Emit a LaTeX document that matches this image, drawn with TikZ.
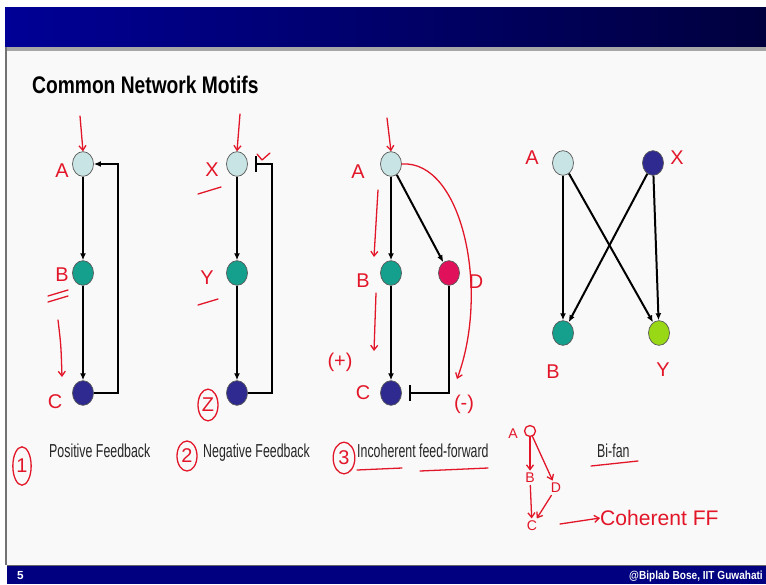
\documentclass[tikz,border=0pt]{standalone}
\usepackage{fontspec}
\setmainfont{Liberation Sans}
\usepackage{graphicx}
\usetikzlibrary{arrows.meta,shapes.geometric}

\definecolor{bandleft}{RGB}{0,0,150}
\definecolor{bandright}{RGB}{0,0,62}
\definecolor{footblue}{RGB}{0,0,128}
\definecolor{slidebg}{RGB}{249,249,249}
\definecolor{lightcyan}{RGB}{200,228,228}
\definecolor{tealnode}{RGB}{20,160,140}
\definecolor{darkblue}{RGB}{46,42,143}
\definecolor{magentanode}{RGB}{224,16,90}
\definecolor{limenode}{RGB}{153,216,20}
\definecolor{pen}{RGB}{226,22,40}

\newcommand*{\squeeze}[2]{\scalebox{#1}[1]{#2}}

\begin{document}
\begin{tikzpicture}
[
	x=0.03cm,
	y=-0.03cm,
	motif/.style={ellipse,draw=black!65,line width=0.6pt,inner sep=0pt,minimum width=0.63cm,minimum height=0.74cm},
	edge/.style={line width=1.7pt,-{Latex[length=6pt,width=5pt]}},
	inhib/.style={line width=1.7pt,-{Bar[width=13pt]},shorten >=6pt},
	caption/.style={anchor=base west,inner sep=0pt,font=\fontsize{16}{18}\selectfont,text=black!85},
	hand/.style={text=pen,font=\fontsize{17}{19}\selectfont,inner sep=0pt},
	handline/.style={draw=pen,line width=1.1pt,line cap=round},
	handarrow/.style={handline,-{Straight Barb[length=4pt,width=6pt]}},
	sketch/.style={hand,font=\fontsize{12}{14}\selectfont,inner sep=2pt}
]

	% slide
	\useasboundingbox (0,0) rectangle (766,584);
	\fill[white] (0,0) rectangle (766,584);
	\fill[slidebg] (6,50) rectangle (766,565);
	\shade[left color=bandleft,right color=bandright] (5,7) rectangle (766,47);
	\fill[black!35] (5,47) rectangle (766,51);
	\draw[black!55,line width=1pt] (6,47) -- (6,565);
	\fill[footblue] (7,565) rectangle (766,584);
	\draw[black!60,line width=0.8pt] (7,565) -- (766,565);
	\node[anchor=base west,text=white,font=\fontsize{10}{12}\selectfont\bfseries] (pageno) at (13,579) {5};
	\node[anchor=base east,inner sep=0pt,text=white,font=\fontsize{10}{12}\selectfont\bfseries] (credit) at (763,579) {\squeeze{0.86}{@Biplab Bose, IIT Guwahati}};

	% title
	\node[anchor=base west,inner sep=0pt,font=\fontsize{20.5}{24}\selectfont\bfseries] (title) at (32,93) {\squeeze{0.8}{Common Network Motifs}};

	% positive feedback
	\node[motif,fill=lightcyan] (a1) at (83,164) {};
	\node[motif,fill=tealnode] (b1) at (83,273) {};
	\node[motif,fill=darkblue] (c1) at (83,393) {};
	\coordinate (r1) at (118,164);
	\draw[edge] (a1) -- (b1);
	\draw[edge] (b1) -- (c1);
	\draw[edge] (c1.east) -| (r1) -- (a1.east);

	% negative feedback
	\node[motif,fill=lightcyan] (x2) at (237,164) {};
	\node[motif,fill=tealnode] (y2) at (237,273) {};
	\node[motif,fill=darkblue] (z2) at (237,393) {};
	\coordinate (r2) at (272,164);
	\draw[edge] (x2) -- (y2);
	\draw[edge] (y2) -- (z2);
	\draw[inhib] (z2.east) -| (r2) -- (x2.east);

	% incoherent feed-forward
	\node[motif,fill=lightcyan] (a3) at (391,164) {};
	\node[motif,fill=tealnode] (b3) at (391,273) {};
	\node[motif,fill=magentanode] (d3) at (449,273) {};
	\node[motif,fill=darkblue] (c3) at (391,393) {};
	\coordinate (r3) at (449,393);
	\draw[edge] (a3) -- (b3);
	\draw[edge] (a3) -- (d3);
	\draw[edge] (b3) -- (c3);
	\draw[inhib] (d3.south) -- (r3) -- (c3.east);

	% bi-fan
	\node[motif,fill=lightcyan] (a4) at (563,163) {};
	\node[motif,fill=darkblue] (x4) at (653,163) {};
	\node[motif,fill=tealnode] (b4) at (563,333) {};
	\node[motif,fill=limenode] (y4) at (659,333) {};
	\draw[edge] (a4) -- (b4);
	\draw[edge] (a4) -- (y4);
	\draw[edge] (x4) -- (b4);
	\draw[edge] (x4) -- (y4);

	% captions
	\node[caption] (cap1) at (49,457) {\squeeze{0.66}{Positive Feedback}};
	\node[caption] (cap2) at (203,457) {\squeeze{0.66}{Negative Feedback}};
	\node[caption] (cap3) at (357,457) {\squeeze{0.66}{Incoherent feed-forward}};
	\node[caption] (cap4) at (597,457) {\squeeze{0.66}{Bi-fan}};

	% handwriting, motif 1
	\coordinate (in1) at (80,116);
	\draw[handarrow] (in1) -- (a1.north);
	\node[hand] (la1) at (62,171) {A};
	\node[hand] (lb1) at (62,275) {B};
	\draw[handline] (48,296) -- (68,290) (48,302) -- (68,296);
	\draw[handarrow] (58,320) .. controls (61,345) .. (62,377);
	\node[hand] (lc1) at (55,402) {C};
	\node[hand,ellipse,draw=pen,line width=1.1pt,minimum width=0.55cm,minimum height=1.15cm] (n1) at (22,466) {1};

	% handwriting, motif 2
	\coordinate (in2) at (240,114);
	\draw[handarrow] (in2) -- (x2.north);
	\draw[handline] (257,154) -- (262,160) (262,160) -- (270,153);
	\node[hand] (lx2) at (212,170) {X};
	\draw[handline] (198,194) -- (221,187);
	\node[hand] (ly2) at (207,278) {Y};
	\draw[handline] (198,305) -- (218,299);
	\node[hand,ellipse,draw=pen,line width=1.1pt,minimum width=0.6cm,minimum height=0.95cm] (lz2) at (208,405) {Z};
	\node[hand,ellipse,draw=pen,line width=1.1pt,minimum width=0.6cm,minimum height=0.9cm] (n2) at (187,456) {2};

	% handwriting, motif 3
	\coordinate (in3) at (387,118);
	\draw[handarrow] (in3) -- (a3.north);
	\node[hand] (la3) at (358,172) {A};
	\draw[handarrow] (378,190) -- (374,257);
	\node[hand] (lb3) at (363,281) {B};
	\draw[handarrow] (376,293) -- (374,351);
	\node[hand] (plus3) at (340,362) {(+)};
	\node[hand] (lc3) at (363,393) {C};
	\node[hand] (ld3) at (476,282) {D};
	\coordinate (arc3) at (457,379);
	\draw[handarrow] (a3.east) .. controls (462,160) and (490,290) .. (arc3);
	\node[hand] (minus3) at (464,404) {(-)};
	\node[hand,ellipse,draw=pen,line width=1.1pt,minimum width=0.65cm,minimum height=0.95cm] (n3) at (344,458) {3};
	\draw[handline] (357,470) -- (402,468) (420,471) -- (488,468);

	% handwriting, motif 4
	\node[hand] (la4) at (532,158) {A};
	\node[hand] (lx4) at (677,158) {X};
	\node[hand] (lb4) at (553,372) {B};
	\node[hand] (ly4) at (663,370) {Y};
	\draw[handline] (591,466) -- (638,461);

	% handwriting, coherent sketch
	\node[sketch] (sa) at (513,434) {A};
	\node[handline,circle,draw,inner sep=0pt,minimum size=0.33cm] (so) at (530,431) {};
	\node[sketch] (sb) at (530,478) {B};
	\node[sketch] (sd) at (556,488) {D};
	\node[sketch] (sc) at (532,526) {C};
	\draw[handarrow] (so) -- (sb);
	\draw[handarrow] (so) -- (sd);
	\draw[handarrow] (sb) -- (sc);
	\draw[handarrow] (sd) -- (sc);
	\node[hand,font=\fontsize{18}{20}\selectfont,anchor=west] (coh) at (600,518) {Coherent FF};
	\draw[handarrow] (560,524) -- (coh.west);

\end{tikzpicture}
\end{document}
